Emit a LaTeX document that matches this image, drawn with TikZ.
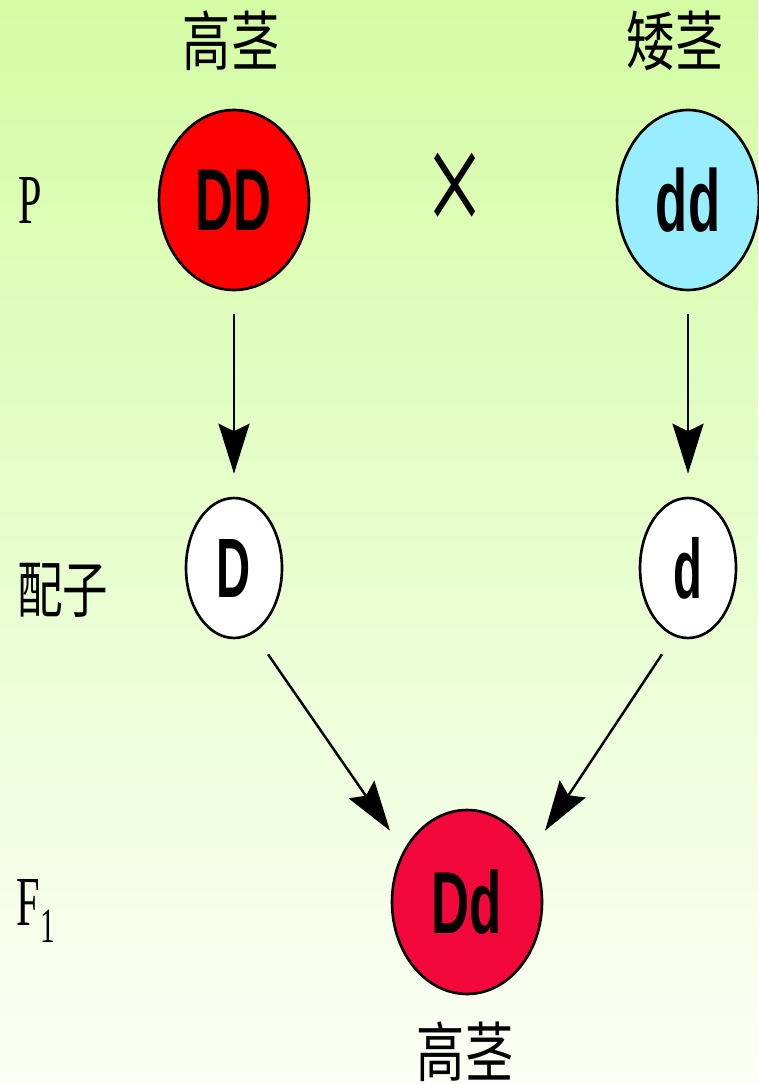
\documentclass[tikz,border=0pt]{standalone}
\usepackage{fontspec}
\setmainfont{Liberation Sans}
\newfontfamily\serifletter{Liberation Serif}
\newfontfamily\cjk{Noto Sans CJK SC}
\usepackage{tikz}
\usetikzlibrary{shapes.geometric,arrows.meta,calc}

\definecolor{bgtop}{RGB}{212,252,164}
\definecolor{bgbottom}{RGB}{251,255,246}
\definecolor{parentred}{RGB}{255,0,0}
\definecolor{hybridred}{RGB}{242,8,58}
\definecolor{recesscyan}{RGB}{152,238,252}

% schmale Schrift wie im Original
\newcommand{\slimtext}[2][0.6]{\scalebox{#1}[1]{#2}}

\begin{document}
\begin{tikzpicture}[
    x=0.02cm, y=-0.02cm,
    % --- STYLES ---
    gene/.style={
        ellipse, draw=black, line width=1.5pt,
        minimum width=3cm, minimum height=3.6cm,
        inner sep=0pt, font=\bfseries\fontsize{50}{50}\selectfont
    },
    gamete/.style={
        gene, fill=white,
        minimum width=1.92cm, minimum height=2.8cm,
        font=\bfseries\fontsize{48}{48}\selectfont
    },
    trait/.style={font=\cjk\fontsize{37}{37}\selectfont, inner sep=0pt},
    gen/.style={font=\serifletter\fontsize{40}{40}\selectfont, inner sep=0pt},
    inherit/.style={-{Stealth[length=1cm, width=0.62cm, inset=0.15cm]}, line width=1.4pt}
]

% ===== 1. BACKGROUND =====
\useasboundingbox (0,0) rectangle (758,1084);
\shade[top color=bgtop, bottom color=bgbottom] (0,0) rectangle (758,1084);

\def\xLeft{234}
\def\xRight{688}

% ===== 2. PARENTS (P) =====
\node[trait] (tallP) at (231,41) {\slimtext[0.74]{高茎}};
\node[trait] (shortP) at (675,41) {\slimtext[0.74]{矮茎}};

\node[gen] (P) at (30,200) {\slimtext{P}};
\node[gene, fill=parentred] (DD) at (\xLeft,200) {\slimtext{DD}};
\node[font=\serifletter\fontsize{64}{64}\selectfont, inner sep=0pt] (cross) at (455,195) {\scalebox{0.9}[1.4]{×}};
\node[gene, fill=recesscyan, minimum width=2.84cm] (dd) at (\xRight,200) {\slimtext{dd}};

% ===== 3. GAMETES =====
\node[trait, font=\cjk\fontsize{35}{35}\selectfont] (gam) at (63,590) {\slimtext[0.74]{配子}};
\node[gamete] (D) at (\xLeft,568) {\slimtext[0.56]{D}};
\node[gamete] (d) at (\xRight,568) {\slimtext[0.56]{d}};

% ===== 4. OFFSPRING (F1) =====
\node[gen] (F1) at (36,911) {\slimtext{F\textsubscript{1}}};
\node[gene, fill=hybridred, minimum height=3.68cm] (Dd) at (467,902) {\slimtext{Dd}};
\node[trait] (tallF) at (465,1052) {\slimtext[0.74]{高茎}};

% ===== 5. ARROWS =====
\draw[inherit] ([yshift=-0.46cm]DD.south) -- ([yshift=0.46cm]D.north);
\draw[inherit] ([yshift=-0.46cm]dd.south) -- ([yshift=0.46cm]d.north);

\draw[inherit] ($(D.south)+(34,15)$) -- ($(Dd.north)+(-77,22)$);
\draw[inherit] ($(d.south)+(-26,15)$) -- ($(Dd.north)+(78,22)$);

\end{tikzpicture}
\end{document}
